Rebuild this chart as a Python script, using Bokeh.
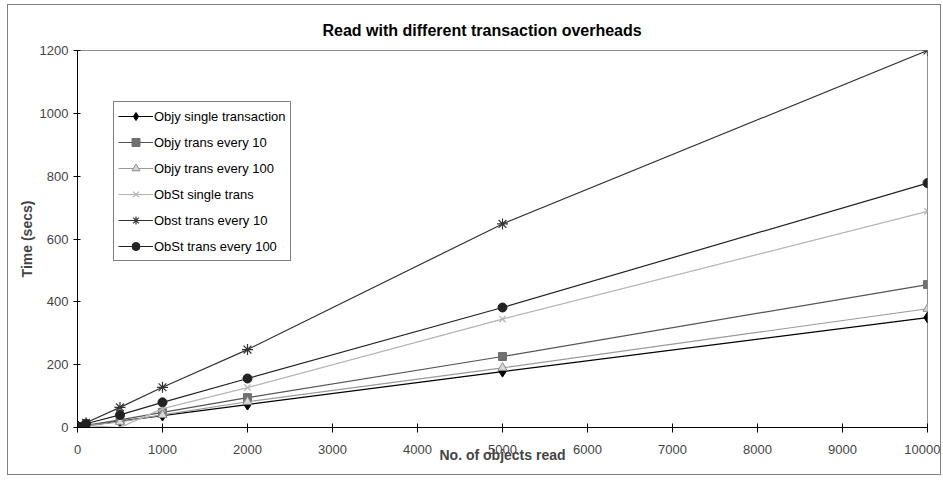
import math
from bokeh.plotting import figure
from bokeh.models import Range1d, Legend, LegendItem, FixedTicker
from bokeh.embed import file_html
from bokeh.resources import INLINE

# ---- data ----
x_objects = [10, 100, 500, 1000, 2000, 5000, 10000]
objy_single = [1, 5, 20, 38, 73, 178, 350]
objy_every10 = [2, 7, 24, 48, 95, 226, 455]
objy_every100 = [1, 6, 18, 40, 82, 190, 378]
obst_single = [1, 6, 0, 60, 127, 345, 688]
obst_every10 = [3, 15, 64, 128, 248, 648, 1200]
obst_every100 = [2, 12, 40, 80, 156, 382, 778]

series_names = ["Objy single transaction", "Objy trans every 10", "Objy trans every 100",
                "ObSt single trans", "Obst trans every 10", "ObSt trans every 100"]
x_ticks = [0, 1000, 2000, 3000, 4000, 5000, 6000, 7000, 8000, 9000, 10000]
y_ticks = [0, 200, 400, 600, 800, 1000, 1200]

FONT = "Liberation Sans"

p = figure(width=932, height=469, output_backend="svg", toolbar_location=None,
           x_range=Range1d(0, 10000), y_range=Range1d(0, 1200),
           min_border_left=69, min_border_right=13, min_border_top=45, min_border_bottom=47)
p.styles = {"outline": "1px solid #808080", "outline-offset": "0px",
            "margin-left": "8px", "margin-top": "5px"}

p.title.text = "Read with different transaction overheads"
p.title.align = "left"
p.title.offset = 245
p.title.text_font = FONT
p.title.text_font_size = "16px"
p.title.text_font_style = "bold"
p.title.text_color = "black"
p.title.standoff = 24

p.xgrid.visible = False
p.ygrid.visible = False
p.outline_line_color = "#909090"
p.outline_line_width = 1
p.background_fill_color = "white"
p.border_fill_color = "white"

xa = p.xaxis[0]
xa.ticker = FixedTicker(ticks=x_ticks)
xa.axis_label = "No. of objects read"
xa.axis_label_text_font = FONT
xa.axis_label_text_font_size = "14px"
xa.axis_label_text_font_style = "bold"
xa.axis_label_standoff = -10
xa.major_label_text_font = FONT
xa.major_label_text_font_size = "13px"
xa.major_label_standoff = 12
xa.major_tick_in = 4
xa.major_tick_out = 5
xa.minor_tick_in = 0
xa.minor_tick_out = 0
xa.axis_line_color = "black"
xa.major_tick_line_color = "black"

ya = p.yaxis[0]
ya.ticker = FixedTicker(ticks=y_ticks)
ya.axis_label = "Time (secs)"
ya.axis_label_text_font = FONT
ya.axis_label_text_font_size = "14px"
ya.axis_label_text_font_style = "bold"
ya.axis_label_standoff = 2
ya.major_label_text_font = FONT
ya.major_label_text_font_size = "13px"
ya.major_label_standoff = 5
ya.major_tick_in = 3
ya.major_tick_out = 4
ya.minor_tick_in = 0
ya.minor_tick_out = 0
ya.axis_line_color = "black"
ya.major_tick_line_color = "black"

items = []

# Objy single transaction
l = p.line(x_objects, objy_single, line_color="black", line_width=1.2)
m = p.scatter(x_objects, objy_single, marker="diamond", size=11, fill_color="black", line_color="black")
items.append(LegendItem(label=series_names[0], renderers=[l, m]))

# Objy trans every 10
l = p.line(x_objects, objy_every10, line_color="#555555", line_width=1.2)
m = p.scatter(x_objects, objy_every10, marker="square", size=8, fill_color="#707070", line_color="#707070")
items.append(LegendItem(label=series_names[1], renderers=[l, m]))

# Objy trans every 100
l = p.line(x_objects, objy_every100, line_color="#9a9a9a", line_width=1.2)
m = p.scatter(x_objects, objy_every100, marker="triangle", size=9, fill_color="#d8d8d8", line_color="#8a8a8a")
items.append(LegendItem(label=series_names[2], renderers=[l, m]))

# ObSt single trans
l = p.line(x_objects, obst_single, line_color="#b4b4b4", line_width=1.2)
m = p.scatter(x_objects, obst_single, marker="x", size=9, line_color="#b4b4b4", line_width=1.2)
items.append(LegendItem(label=series_names[3], renderers=[l, m]))

# Obst trans every 10
l = p.line(x_objects, obst_every10, line_color="#333333", line_width=1.2)
m = p.scatter(x_objects, obst_every10, marker="asterisk", size=11, line_color="#333333", line_width=1.2)
items.append(LegendItem(label=series_names[4], renderers=[l, m]))

# ObSt trans every 100
l = p.line(x_objects, obst_every100, line_color="#222222", line_width=1.2)
m = p.scatter(x_objects, obst_every100, marker="circle", size=9, fill_color="#222222", line_color="#222222")
items.append(LegendItem(label=series_names[5], renderers=[l, m]))

legend = Legend(items=items, location=(36, 166))
legend.label_text_font = FONT
legend.label_text_font_size = "13px"
legend.label_text_color = "black"
legend.label_standoff = 1
legend.glyph_width = 35
legend.glyph_height = 20
legend.label_height = 20
legend.spacing = 6
legend.padding = 4
legend.margin = 0
legend.border_line_color = "black"
legend.border_line_width = 1
legend.background_fill_color = "white"
legend.background_fill_alpha = 1
p.add_layout(legend)

open("out.html", "w").write(file_html(p, INLINE))
